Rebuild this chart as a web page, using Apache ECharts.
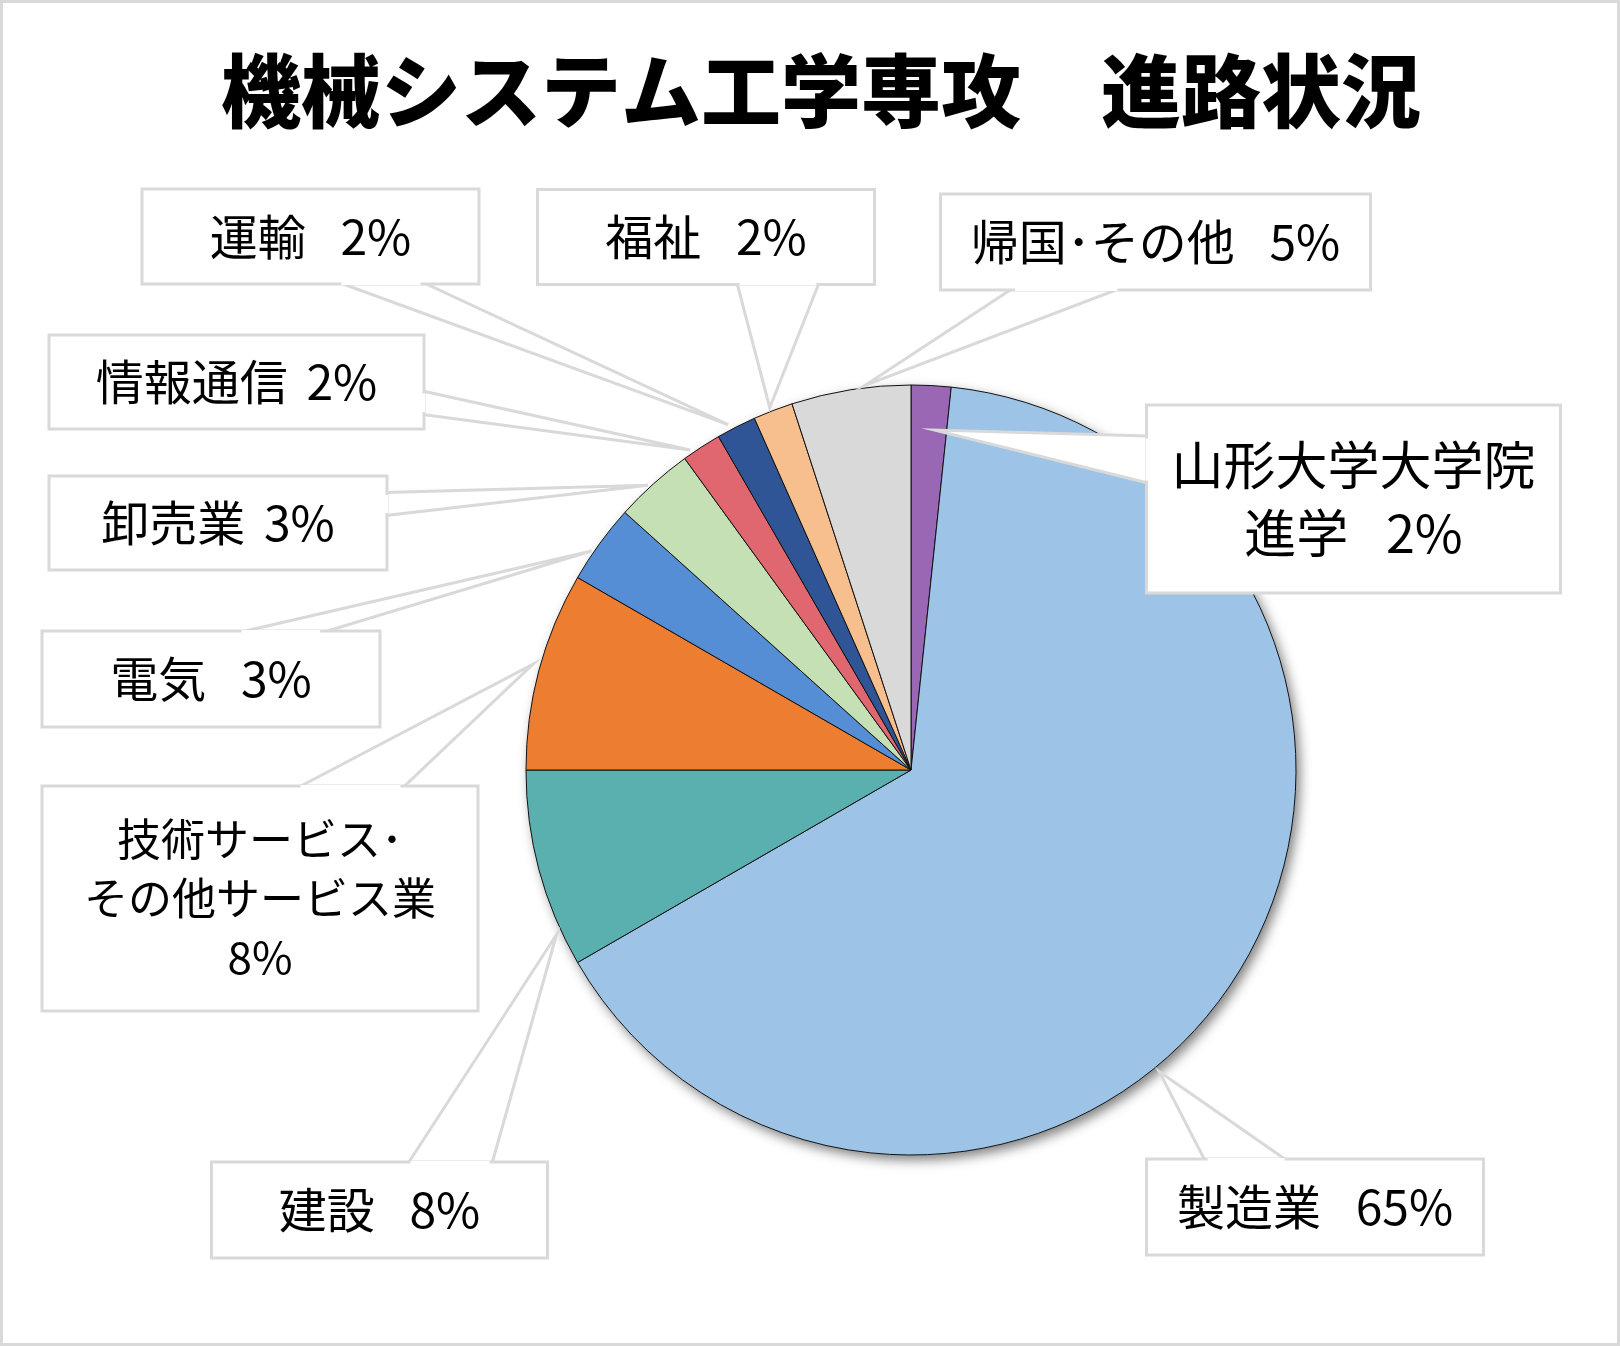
<!DOCTYPE html>
<html><head><meta charset="utf-8">
<script src="https://cdn.jsdelivr.net/npm/echarts@6/dist/echarts.min.js"></script>
<style>html,body{margin:0;padding:0;background:#fff}#c{width:1620px;height:1346px}</style>
</head><body><div id="c"></div><script>
// ---- data ----
const categories = ['山形大学大学院進学','製造業','建設','技術サービス・その他サービス業','電気','卸売業','情報通信','運輸','福祉','帰国・その他'];
const SP = '\u2002 ';   // wide gap between name and percent
const sp = ' \u2006';   // narrow gap
const labelPrefixes = ['山形大学大学院\n進学'+SP,'製造業'+SP,'建設'+SP,'技術サービス･\nその他サービス業\n','電気'+SP,'卸売業'+sp,'情報通信'+sp,'運輸'+SP,'福祉'+SP,'帰国･その他'+SP];
const counts = [1, 39, 5, 5, 2, 2, 1, 1, 1, 3];
const colors = ['#9A67B5','#9DC3E6','#5AB0AE','#ED7D31','#558ED5','#C5E0B4','#E0666F','#2F5597','#F8BF8E','#D9D9D9'];
const titleText = '機械システム工学専攻　進路状況';

// ---- layout (positions / sizes / styles) ----
const CX = 911, CY = 770, R = 385;
const FRAME = '#D9D9D9';
// box: [left, top, width, height]; base: wedge base points on box edge; tip: [fraction within slice, radius factor]
const callouts = [
  {box:[1148,406.5,411,185], lines:2, font:52, lh:68, base:[[1148,436],[1148,483]], tip:[0.67,0.885]},
  {box:[1148,1160.5,334,93], lines:1, font:48, lh:56, base:[[1205,1160.5],[1287,1160.5]], tip:[0.575,1.015]},
  {box:[213,1163.5,333,93], lines:1, font:48, lh:56, base:[[408,1163.5],[492,1163.5]], tip:[0.17,1.015]},
  {box:[43.5,787.5,433,222], lines:3, font:44, lh:59, base:[[298,787.5],[403,787.5]], tip:[0.52,1.02]},
  {box:[43.5,632.5,335,93], lines:1, font:48, lh:56, base:[[239,632.5],[322.5,632.5]], tip:[0.37,1.006]},
  {box:[50.5,477.5,335,91], lines:1, font:48, lh:56, base:[[385.5,492.5],[385.5,515.5]], tip:[0.44,1.007]},
  {box:[50.5,336.5,372,91], lines:1, font:48, lh:56, base:[[422.5,391],[422.5,414.5]], tip:[0.23,1.01]},
  {box:[143.5,190.5,334,92], lines:1, font:48, lh:56, base:[[339,282.5],[423,282.5]], tip:[0.35,1.015]},
  {box:[539,191,334,92], lines:1, font:48, lh:56, base:[[737,283],[819,283]], tip:[0.45,1.01]},
  {box:[942,195.5,427,93], lines:1, font:48, lh:56, base:[[1012.5,288.5],[1120,288.5]], tip:[0.62,1.006]}
];

const total = counts.reduce((a,b)=>a+b,0);
let acc = 0;
const spans = counts.map(v => { const s = acc; acc += v; return [s/total*360, acc/total*360]; });
function tipPoint(i){
  const [a0,a1] = spans[i]; const [f,rf] = callouts[i].tip;
  const a = (a0 + (a1-a0)*f) * Math.PI/180;
  return [CX + R*rf*Math.sin(a), CY - R*rf*Math.cos(a)];
}

const graphics = [
  {type:'rect', shape:{x:1.5,y:1.5,width:1617,height:1343}, style:{fill:null, stroke:FRAME, lineWidth:3}, z:0, silent:true}
];
callouts.forEach((c,i)=>{
  const t = tipPoint(i);
  graphics.push({type:'polygon', shape:{points:[c.base[0], t, c.base[1]]}, style:{fill:'#fff', stroke:FRAME, lineWidth:3, lineJoin:'miter'}, z:3, silent:true});
  // open the box border where the wedge joins
  const [p,q] = c.base;
  const dx = q[0]-p[0], dy = q[1]-p[1], L = Math.hypot(dx,dy), ux = dx/L, uy = dy/L, ins = 2.5;
  graphics.push({type:'line', shape:{x1:p[0]+ux*ins, y1:p[1]+uy*ins, x2:q[0]-ux*ins, y2:q[1]-uy*ins}, style:{stroke:'#fff', lineWidth:5}, z:10, silent:true});
});

const fontFamily = "'Noto Sans CJK JP','Noto Sans',sans-serif";

const chart = echarts.init(document.getElementById('c'), null, {renderer:'canvas'});
chart.setOption({
  backgroundColor:'#fff',
  animation:false,
  title:{
    text:titleText, left:816, top:46, textAlign:'center',
    textStyle:{fontFamily:fontFamily, fontSize:80, fontWeight:900, color:'#000'}
  },
  graphic:graphics,
  series:[
    { // shadow base
      type:'pie', z:1, silent:true, center:[CX,CY], radius:[0,R], startAngle:90,
      data:[{value:total, name:'base'}], label:{show:false}, labelLine:{show:false},
      itemStyle:{color:'#fff', shadowBlur:12, shadowColor:'rgba(0,0,0,0.5)', shadowOffsetX:4, shadowOffsetY:5},
      emphasis:{disabled:true}
    },
    { // slices
      type:'pie', z:2, silent:true, center:[CX,CY], radius:[0,R], startAngle:90, clockwise:true,
      data:counts.map((v,i)=>({value:v, name:categories[i], itemStyle:{color:colors[i]}})),
      itemStyle:{borderColor:'#111', borderWidth:1},
      label:{show:false}, labelLine:{show:false},
      emphasis:{disabled:true}
    },
    { // callout labels
      type:'pie', z:5, silent:true, center:[CX,CY], radius:[0,R], startAngle:90, clockwise:true,
      data:counts.map((v,i)=>{
        const c = callouts[i];
        const pv = (c.box[3] - c.lines*c.lh)/2;
        return {value:v, name:categories[i], itemStyle:{color:'rgba(0,0,0,0)', borderWidth:0},
          label:{fontSize:c.font, lineHeight:c.lh, width:c.box[2], padding:[pv,0,pv,0]}};
      }),
      label:{
        show:true, position:'inside', fontFamily:fontFamily, color:'#000', align:'center',
        backgroundColor:'#fff', borderColor:FRAME, borderWidth:3,
        formatter:p => labelPrefixes[p.dataIndex] + Math.round(p.percent) + '%'
      },
      labelLine:{show:false},
      labelLayout:p => {
        const b = callouts[p.dataIndex].box;
        return {x:b[0]+b[2]/2, y:b[1]+b[3]/2, align:'center', verticalAlign:'middle'};
      },
      emphasis:{disabled:true}
    }
  ]
});
</script></body></html>
